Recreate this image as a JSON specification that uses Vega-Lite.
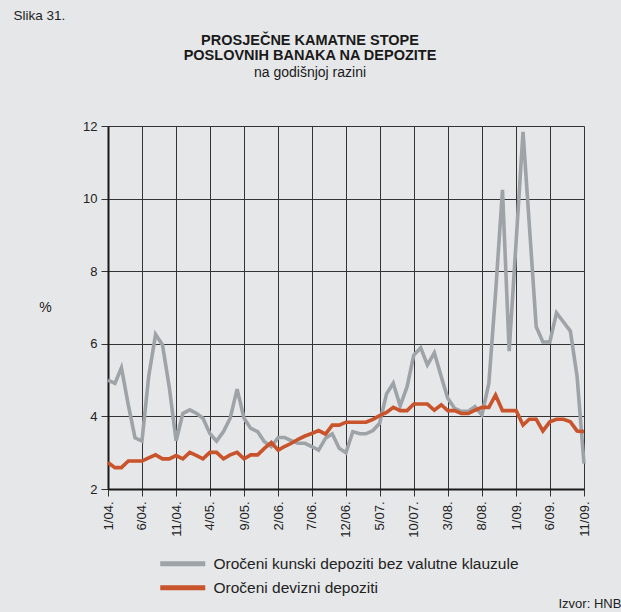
{
  "$schema": "https://vega.github.io/schema/vega-lite/v6.json",
  "width": 476,
  "height": 363,
  "autosize": {"type": "none"},
  "padding": {"left": 108, "top": 126, "right": 37, "bottom": 123},
  "background": "#e6e7e9",
  "title": {
    "text": ["PROSJEČNE KAMATNE STOPE", "POSLOVNIH BANAKA NA DEPOZITE"],
    "subtitle": "na godišnjoj razini",
    "anchor": "middle",
    "dx": -36,
    "offset": -73,
    "font": "Liberation Sans",
    "fontSize": 14.5,
    "fontWeight": "bold",
    "lineHeight": 15,
    "color": "#1a1a1a",
    "subtitleFont": "Liberation Sans",
    "subtitleFontSize": 14,
    "subtitleColor": "#1a1a1a",
    "subtitlePadding": 3
  },
  "data": {
    "values": [
      {"d": "2004-01-01", "kn": 5.00, "dev": 2.73},
      {"d": "2004-02-01", "kn": 4.91, "dev": 2.59},
      {"d": "2004-03-01", "kn": 5.34, "dev": 2.59},
      {"d": "2004-04-01", "kn": 4.31, "dev": 2.77},
      {"d": "2004-05-01", "kn": 3.41, "dev": 2.77},
      {"d": "2004-06-01", "kn": 3.32, "dev": 2.77},
      {"d": "2004-07-01", "kn": 5.09, "dev": 2.86},
      {"d": "2004-08-01", "kn": 6.26, "dev": 2.94},
      {"d": "2004-09-01", "kn": 5.97, "dev": 2.83},
      {"d": "2004-10-01", "kn": 4.82, "dev": 2.83},
      {"d": "2004-11-01", "kn": 3.33, "dev": 2.92},
      {"d": "2004-12-01", "kn": 4.08, "dev": 2.83},
      {"d": "2005-01-01", "kn": 4.18, "dev": 3.01},
      {"d": "2005-02-01", "kn": 4.08, "dev": 2.92},
      {"d": "2005-03-01", "kn": 3.95, "dev": 2.83},
      {"d": "2005-04-01", "kn": 3.53, "dev": 3.01},
      {"d": "2005-05-01", "kn": 3.32, "dev": 3.01},
      {"d": "2005-06-01", "kn": 3.58, "dev": 2.83},
      {"d": "2005-07-01", "kn": 3.95, "dev": 2.94},
      {"d": "2005-08-01", "kn": 4.75, "dev": 3.01},
      {"d": "2005-09-01", "kn": 3.95, "dev": 2.83},
      {"d": "2005-10-01", "kn": 3.67, "dev": 2.94},
      {"d": "2005-11-01", "kn": 3.58, "dev": 2.94},
      {"d": "2005-12-01", "kn": 3.30, "dev": 3.12},
      {"d": "2006-01-01", "kn": 3.17, "dev": 3.28},
      {"d": "2006-02-01", "kn": 3.42, "dev": 3.07},
      {"d": "2006-03-01", "kn": 3.42, "dev": 3.17},
      {"d": "2006-04-01", "kn": 3.33, "dev": 3.26},
      {"d": "2006-05-01", "kn": 3.26, "dev": 3.37},
      {"d": "2006-06-01", "kn": 3.26, "dev": 3.46},
      {"d": "2006-07-01", "kn": 3.17, "dev": 3.53},
      {"d": "2006-08-01", "kn": 3.07, "dev": 3.61},
      {"d": "2006-09-01", "kn": 3.40, "dev": 3.51},
      {"d": "2006-10-01", "kn": 3.52, "dev": 3.76},
      {"d": "2006-11-01", "kn": 3.12, "dev": 3.76},
      {"d": "2006-12-01", "kn": 3.00, "dev": 3.84},
      {"d": "2007-01-01", "kn": 3.58, "dev": 3.84},
      {"d": "2007-02-01", "kn": 3.52, "dev": 3.84},
      {"d": "2007-03-01", "kn": 3.52, "dev": 3.84},
      {"d": "2007-04-01", "kn": 3.61, "dev": 3.92},
      {"d": "2007-05-01", "kn": 3.81, "dev": 4.02},
      {"d": "2007-06-01", "kn": 4.62, "dev": 4.11},
      {"d": "2007-07-01", "kn": 4.91, "dev": 4.25},
      {"d": "2007-08-01", "kn": 4.29, "dev": 4.16},
      {"d": "2007-09-01", "kn": 4.82, "dev": 4.16},
      {"d": "2007-10-01", "kn": 5.69, "dev": 4.34},
      {"d": "2007-11-01", "kn": 5.89, "dev": 4.34},
      {"d": "2007-12-01", "kn": 5.42, "dev": 4.34},
      {"d": "2008-01-01", "kn": 5.75, "dev": 4.17},
      {"d": "2008-02-01", "kn": 5.09, "dev": 4.32},
      {"d": "2008-03-01", "kn": 4.50, "dev": 4.16},
      {"d": "2008-04-01", "kn": 4.22, "dev": 4.16},
      {"d": "2008-05-01", "kn": 4.14, "dev": 4.08},
      {"d": "2008-06-01", "kn": 4.14, "dev": 4.08},
      {"d": "2008-07-01", "kn": 4.27, "dev": 4.17},
      {"d": "2008-08-01", "kn": 4.04, "dev": 4.25},
      {"d": "2008-09-01", "kn": 4.91, "dev": 4.25},
      {"d": "2008-10-01", "kn": 7.39, "dev": 4.59},
      {"d": "2008-11-01", "kn": 10.24, "dev": 4.16},
      {"d": "2008-12-01", "kn": 5.80, "dev": 4.16},
      {"d": "2009-01-01", "kn": 8.80, "dev": 4.16},
      {"d": "2009-02-01", "kn": 11.84, "dev": 3.76},
      {"d": "2009-03-01", "kn": 9.30, "dev": 3.92},
      {"d": "2009-04-01", "kn": 6.47, "dev": 3.92},
      {"d": "2009-05-01", "kn": 6.05, "dev": 3.60},
      {"d": "2009-06-01", "kn": 6.05, "dev": 3.85},
      {"d": "2009-07-01", "kn": 6.85, "dev": 3.92},
      {"d": "2009-08-01", "kn": 6.60, "dev": 3.92},
      {"d": "2009-09-01", "kn": 6.35, "dev": 3.85},
      {"d": "2009-10-01", "kn": 5.10, "dev": 3.60},
      {"d": "2009-11-01", "kn": 2.70, "dev": 3.58}
    ]
  },
  "transform": [{"fold": ["kn", "dev"], "as": ["s", "v"]}],
  "resolve": {"axis": {"x": "independent"}},
  "layer": [
    {
      "mark": {"type": "line", "strokeWidth": 3.6, "strokeJoin": "miter", "clip": false},
      "encoding": {
        "x": {
          "field": "d",
          "type": "temporal",
          "scale": {
            "type": "utc",
            "domain": [
              {"year": 2004, "month": 1, "date": 1, "utc": true},
              {"year": 2009, "month": 11, "date": 1, "utc": true}
            ]
          },
          "axis": {
            "orient": "bottom",
            "values": [
              {"year": 2004, "month": 1, "date": 1, "utc": true},
              {"year": 2004, "month": 6, "date": 1, "utc": true},
              {"year": 2004, "month": 11, "date": 1, "utc": true},
              {"year": 2005, "month": 4, "date": 1, "utc": true},
              {"year": 2005, "month": 9, "date": 1, "utc": true},
              {"year": 2006, "month": 2, "date": 1, "utc": true},
              {"year": 2006, "month": 7, "date": 1, "utc": true},
              {"year": 2006, "month": 12, "date": 1, "utc": true},
              {"year": 2007, "month": 5, "date": 1, "utc": true},
              {"year": 2007, "month": 10, "date": 1, "utc": true},
              {"year": 2008, "month": 3, "date": 1, "utc": true},
              {"year": 2008, "month": 8, "date": 1, "utc": true},
              {"year": 2009, "month": 1, "date": 1, "utc": true},
              {"year": 2009, "month": 6, "date": 1, "utc": true},
              {"year": 2009, "month": 11, "date": 1, "utc": true}
            ],
            "labelExpr": "utcFormat(datum.value, '%-m/%y.')",
            "labelAngle": -90,
            "labelAlign": "right",
            "labelBaseline": "middle",
            "labelPadding": 5,
            "labelFontSize": 13,
            "tickSize": 7,
            "grid": true,
            "title": "Izvor: HNB",
            "titleX": 450,
            "titleY": 118,
            "titleAlign": "left",
            "titleBaseline": "alphabetic",
            "titleFontSize": 13,
            "titleFontWeight": "normal"
          }
        },
        "y": {
          "field": "v",
          "type": "quantitative",
          "scale": {"domain": [2, 12], "nice": false, "zero": false},
          "axis": {
            "values": [2, 4, 6, 8, 10, 12],
            "tickSize": 7,
            "labelPadding": 4,
            "labelFontSize": 13,
            "grid": true,
            "title": "%",
            "titleAngle": 0,
            "titleX": -63,
            "titleY": 181,
            "titleAlign": "center",
            "titleBaseline": "middle",
            "titleFontSize": 14,
            "titleFontWeight": "normal"
          }
        },
        "color": {
          "field": "s",
          "type": "nominal",
          "scale": {"domain": ["kn", "dev"], "range": ["#9ea3a7", "#c9532b"]},
          "legend": {
            "orient": "none",
            "direction": "vertical",
            "legendX": 67,
            "legendY": 430,
            "title": null,
            "symbolType": "M-4.5,0H4.5",
            "symbolSize": 100,
            "symbolStrokeWidth": 5,
            "labelFontSize": 15.5,
            "labelOffset": 23,
            "labelLimit": 500,
            "rowPadding": 3,
            "labelExpr": "datum.label == 'kn' ? 'Oročeni kunski depoziti bez valutne klauzule' : 'Oročeni devizni depoziti'"
          }
        }
      }
    },
    {
      "mark": {"type": "line", "opacity": 0},
      "encoding": {
        "x": {
          "field": "d",
          "type": "temporal",
          "axis": {
            "orient": "top",
            "labels": false,
            "ticks": false,
            "domain": false,
            "grid": false,
            "title": "Slika 31.",
            "titleX": -95,
            "titleY": -107,
            "titleAlign": "left",
            "titleBaseline": "alphabetic",
            "titleFontSize": 13.5,
            "titleFontWeight": "normal"
          }
        },
        "y": {"field": "v", "type": "quantitative"},
        "detail": {"field": "s"}
      }
    }
  ],
  "config": {
    "font": "Liberation Sans",
    "view": {"stroke": null},
    "axis": {
      "domainColor": "#1a1a1a",
      "domainWidth": 2,
      "gridColor": "#333333",
      "gridWidth": 1,
      "gridOpacity": 1,
      "tickColor": "#333333",
      "tickWidth": 1,
      "labelColor": "#222222",
      "titleColor": "#222222",
      "labelFont": "Liberation Sans",
      "titleFont": "Liberation Sans"
    },
    "legend": {
      "labelFont": "Liberation Sans",
      "labelColor": "#222222"
    }
  }
}
